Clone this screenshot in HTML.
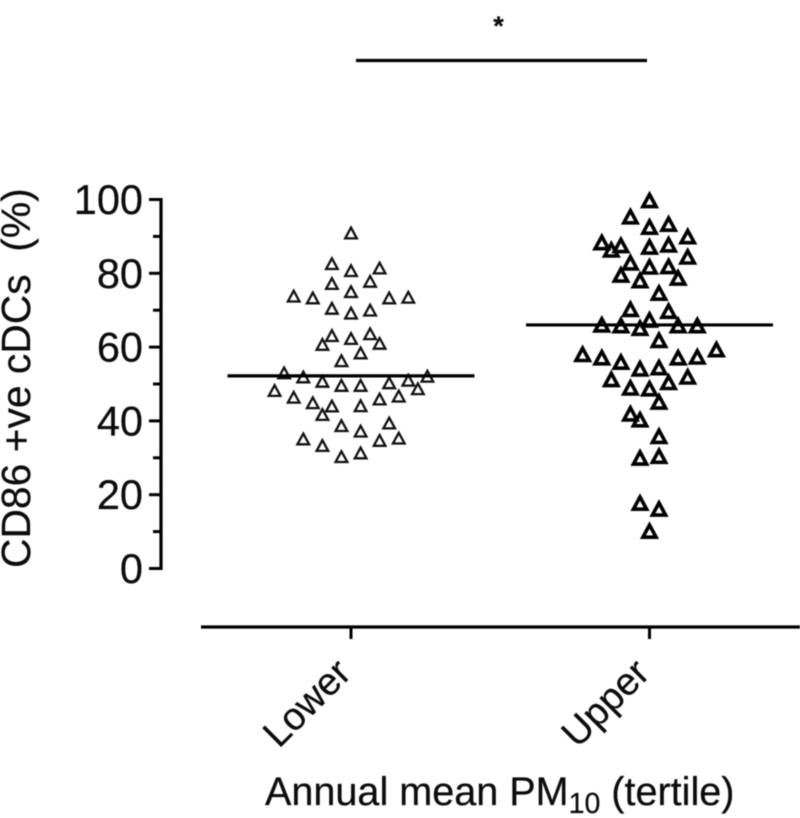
<!DOCTYPE html>
<html>
<head>
<meta charset="utf-8">
<style>
html,body{margin:0;padding:0;background:#fff;width:800px;height:818px;overflow:hidden}
svg{display:block;font-family:"Liberation Sans",sans-serif;filter:blur(0.6px)}
text{fill:#0c0c0c;stroke:#0c0c0c;stroke-width:0.25px}
</style>
</head>
<body>
<svg id="chart" width="800" height="818" viewBox="0 0 800 818" xmlns="http://www.w3.org/2000/svg">
  <g id="y-axis"></g>
  <g id="x-axis"></g>
  <g id="series"></g>
  <line x1="356" y1="60.5" x2="647" y2="60.5" stroke="#000" stroke-width="3.2"/>
  <text x="498.5" y="35" font-size="27" text-anchor="middle" font-weight="bold">*</text>
  <text transform="translate(30,568) rotate(-90)" font-size="40.8" xml:space="preserve">CD86 +ve cDCs  (%)</text>
  <text x="265" y="805" font-size="39.6" xml:space="preserve">Annual mean PM<tspan font-size="28.5" dy="8">10</tspan><tspan dy="-8"> (tertile)</tspan></text>
</svg>
<script>
const categories = ['Lower', 'Upper'];
const yMajorTicks = [0, 20, 40, 60, 80, 100];
const yMinorTicks = [10, 30, 50, 70, 90];
const groupMeans = [52.2, 66.0];

const lowerSlots = [0,-2,0,3,-2,2,0,-6,-4,4,6,-2,0,2,-2,0,2,-3,3,1,-1,-7,-5,-3,-1,1,4,6,8,7,-8,-6,-4,-2,1,3,5,-3,-1,4,1,-5,-3,3,5,-1,1];
const lowerValues = [90.8,82.5,80.6,81.3,77.1,77.7,74.9,73.7,73.2,73.2,73.4,70.4,69.1,69.9,63.0,62.2,63.5,60.6,60.9,58.3,56.2,52.9,51.8,50.6,49.5,49.5,50.2,50.9,52.0,48.6,48.1,46.3,44.8,43.9,44.0,45.8,46.6,41.6,38.6,39.3,37.1,35.0,33.2,34.6,35.2,30.2,31.2];

const upperSlots = [0,-2,0,2,4,-5,-4,-3,0,2,4,-2,0,2,-3,-1,3,1,-2,2,0,-5,-3,-1,3,5,1,7,-7,-5,-3,3,5,-1,1,-4,4,-2,0,2,1,-2,-1,1,-1,1,-1,1,0];
const upperValues = [99.6,95.2,92.4,93.2,89.8,88.2,86.2,87.4,87.0,87.6,84.3,82.7,81.6,81.7,79.4,77.9,78.6,74.5,70.1,69.6,67.2,65.9,65.7,65.0,65.7,65.7,61.7,59.2,57.9,57.0,55.8,57.0,57.2,54.0,54.3,51.1,51.8,48.8,48.6,50.3,45.0,41.8,40.2,35.7,29.8,30.3,17.6,16.0,10.0];

const NS = 'http://www.w3.org/2000/svg';
function yScale(v) { return 568.5 - v * 3.69; }
function xScale(i) { return 351 + i * 298.5; }
function slotScale(i, slot) { return xScale(i) + slot * 9.55; }

function make(parent, tag, attrs) {
  const el = document.createElementNS(NS, tag);
  for (const k in attrs) el.setAttribute(k, attrs[k]);
  parent.appendChild(el);
  return el;
}

const yAxis = document.getElementById('y-axis');
const xAxis = document.getElementById('x-axis');
const series = document.getElementById('series');

const yLine = make(yAxis, 'line', {x1: 161, x2: 161, y1: yScale(100) - 1.5, y2: yScale(0) + 1.5, stroke: '#000', 'stroke-width': 3.2});



yMajorTicks.forEach(function (v) {
  const t = make(yAxis, 'line', {x1: 149, x2: 161, y1: yScale(v), y2: yScale(v), stroke: '#000', 'stroke-width': 3});
  
  
  const l = make(yAxis, 'text', {x: 143, y: yScale(v) + 14.5, 'font-size': 41.5, 'text-anchor': 'end'});
  l.textContent = v;
  
  
});

yMinorTicks.forEach(function (v) {
  const t = make(yAxis, 'line', {x1: 153, x2: 161, y1: yScale(v), y2: yScale(v), stroke: '#000', 'stroke-width': 3});
  
  
});

const xLine = make(xAxis, 'line', {x1: 201, x2: 800, y1: 627, y2: 627, stroke: '#000', 'stroke-width': 3.2});



categories.forEach(function (c, i) {
  const t = make(xAxis, 'line', {x1: xScale(i), x2: xScale(i), y1: 627, y2: 639, stroke: '#000', 'stroke-width': 3});
  
  
  const l = make(xAxis, 'text', {
    transform: 'translate(' + (xScale(i) + 2) + ',675) rotate(-45)',
    'font-size': 38.5,
    'text-anchor': 'end'
  });
  l.textContent = c;
  
  
});

function drawGroup(i, slots, values, half, strokeW, color) {
  const g = make(series, 'g', {});
  
  
  values.forEach(function (v, k) {
    const cx = slotScale(i, slots[k]);
    const cy = yScale(v);
    const pts = [[cx, cy - half], [cx + half, cy + half * 0.85], [cx - half, cy + half * 0.85]]
      .map(function (p) { return p[0].toFixed(1) + ',' + p[1].toFixed(1); }).join(' ');
    const m = make(g, 'polygon', {points: pts, fill: 'none', stroke: color, 'stroke-width': strokeW, 'stroke-linejoin': 'miter'});
    
    
  });
  const mean = make(g, 'line', {
    x1: xScale(i) - 123.5, x2: xScale(i) + 123.5,
    y1: yScale(groupMeans[i]), y2: yScale(groupMeans[i]),
    stroke: '#000', 'stroke-width': 3.2
  });
  
  
}

drawGroup(0, lowerSlots, lowerValues, 5.8, 2.3, '#111');
drawGroup(1, upperSlots, upperValues, 6.6, 3.6, '#000');
</script>
</body>
</html>
